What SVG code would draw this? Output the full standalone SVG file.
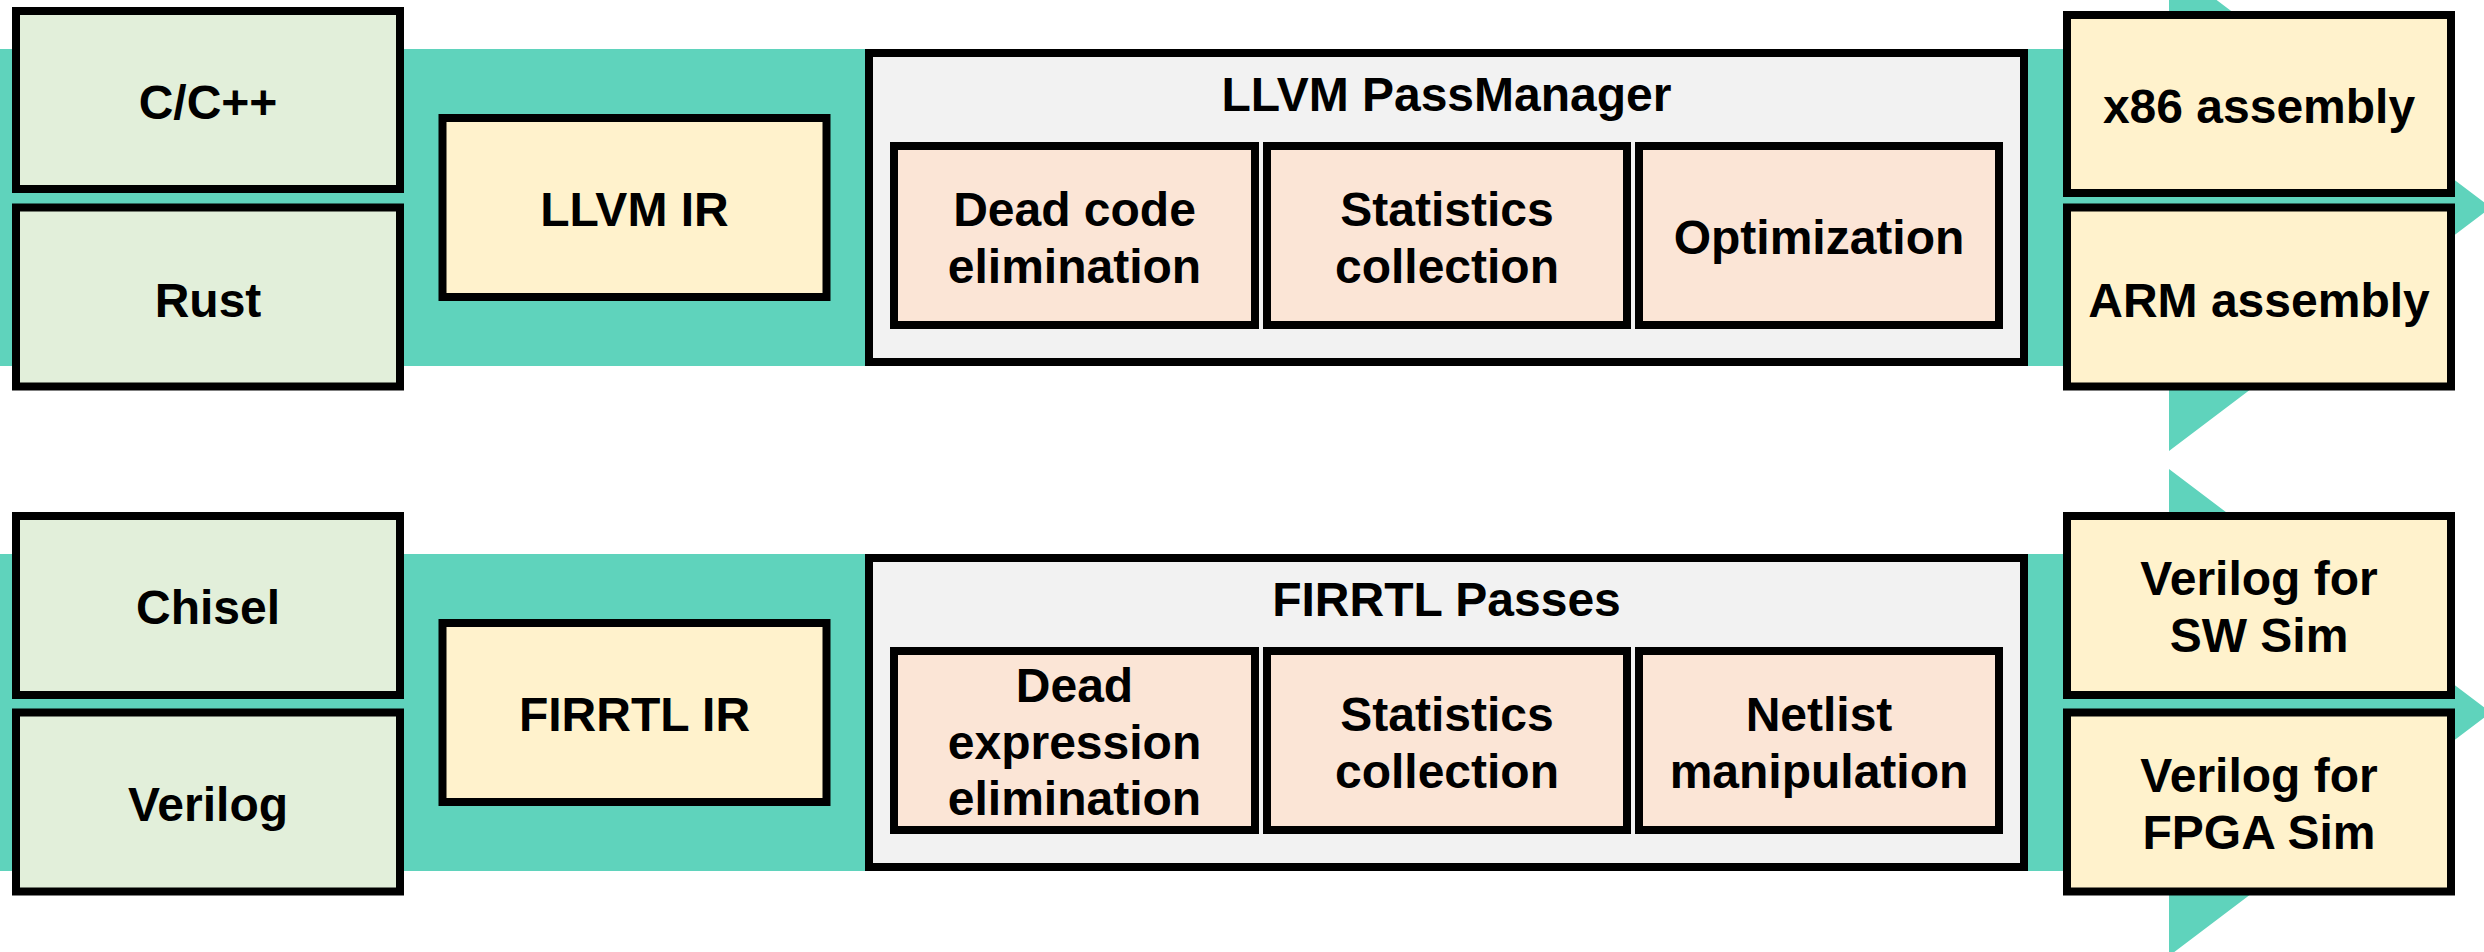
<svg xmlns="http://www.w3.org/2000/svg" width="2484" height="952" viewBox="0 0 2484 952">
<style>
.box{stroke:#000;stroke-width:8}
.src{fill:#e2efda}
.ir{fill:#fff2cc}
.grp{fill:#f2f2f2}
.pass{fill:#fbe5d6}
.flow{fill:#5fd3bc}
text{font-family:"Liberation Sans",Arial,Helvetica,sans-serif;font-weight:bold;font-size:48px;fill:#000;text-anchor:middle}
</style>
<rect x="0" y="0" width="2484" height="952" fill="#fff"/>
<g id="connectors">
<polygon class="flow" points="0,49 2169,49 2169,-36 2491,207.5 2169,451 2169,366 0,366"/>
<polygon class="flow" points="0,554 2169,554 2169,469 2491,712.5 2169,956 2169,871 0,871"/>
</g>
<g id="cpp"><rect class="box src" x="16" y="11" width="384" height="178"/><text x="208" y="119">C/C++</text></g>
<g id="rust"><rect class="box src" x="16" y="207.5" width="384" height="179"/><text x="208" y="317">Rust</text></g>
<g id="llvm-ir"><rect class="box ir" x="442.5" y="118" width="384" height="179"/><text x="634.5" y="226">LLVM IR</text></g>
<g id="passmanager"><rect class="box grp" x="869" y="53" width="1155" height="309"/><text x="1446.5" y="111">LLVM PassManager</text></g>
<g id="dce"><rect class="box pass" x="894" y="146" width="361" height="179"/><text x="1074.5" y="225.5">Dead code</text><text x="1074.5" y="282.5">elimination</text></g>
<g id="stats"><rect class="box pass" x="1267" y="146" width="360" height="179"/><text x="1447" y="225.5">Statistics</text><text x="1447" y="282.5">collection</text></g>
<g id="opt"><rect class="box pass" x="1639" y="146" width="360" height="179"/><text x="1819" y="253.5">Optimization</text></g>
<g id="x86"><rect class="box ir" x="2067" y="15" width="384" height="178"/><text x="2259" y="123">x86 assembly</text></g>
<g id="arm"><rect class="box ir" x="2067" y="207.5" width="384" height="179"/><text x="2259" y="317">ARM assembly</text></g>
<g id="chisel"><rect class="box src" x="16" y="516" width="384" height="179"/><text x="208" y="624">Chisel</text></g>
<g id="verilog"><rect class="box src" x="16" y="712.5" width="384" height="179"/><text x="208" y="821">Verilog</text></g>
<g id="firrtl-ir"><rect class="box ir" x="442.5" y="623" width="384" height="179"/><text x="634.5" y="731">FIRRTL IR</text></g>
<g id="firrtl-passes"><rect class="box grp" x="869" y="558" width="1155" height="309"/><text x="1446.5" y="616">FIRRTL Passes</text></g>
<g id="dee"><rect class="box pass" x="894" y="651" width="361" height="179"/><text x="1074.5" y="701.5">Dead</text><text x="1074.5" y="758.5">expression</text><text x="1074.5" y="815">elimination</text></g>
<g id="stats2"><rect class="box pass" x="1267" y="651" width="360" height="179"/><text x="1447" y="730.5">Statistics</text><text x="1447" y="787.5">collection</text></g>
<g id="netlist"><rect class="box pass" x="1639" y="651" width="360" height="179"/><text x="1819" y="730.5">Netlist</text><text x="1819" y="787.5">manipulation</text></g>
<g id="verilog-sw"><rect class="box ir" x="2067" y="516" width="384" height="179"/><text x="2259" y="595">Verilog for</text><text x="2259" y="652">SW Sim</text></g>
<g id="verilog-fpga"><rect class="box ir" x="2067" y="712.5" width="384" height="179"/><text x="2259" y="792">Verilog for</text><text x="2259" y="849">FPGA Sim</text></g>
</svg>
